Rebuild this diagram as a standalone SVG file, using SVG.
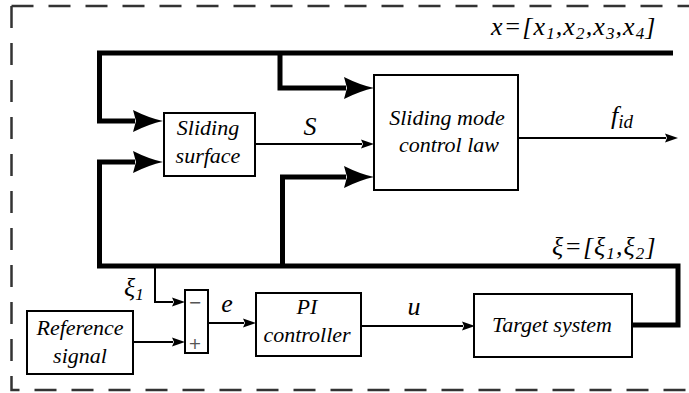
<svg xmlns="http://www.w3.org/2000/svg" width="689" height="393" viewBox="0 0 689 393">
<style>
.box{fill:#fff;stroke:#000;stroke-width:2}
.thick{fill:none;stroke:#000;stroke-width:5;stroke-linejoin:miter}
.thin{fill:none;stroke:#000;stroke-width:2}
.border{fill:none;stroke:#333;stroke-width:2.5;stroke-dasharray:22 15}
.lbl{font-size:22px;text-anchor:middle}
.sig{font-size:26px}
.vec{font-size:26px;letter-spacing:1.1px}
.sign{font-style:normal;font-size:16px;fill:#555;text-anchor:middle}
</style>
<defs>
<marker id="big" markerUnits="userSpaceOnUse" markerWidth="32" markerHeight="24" refX="2" refY="12" orient="auto">
<path d="M0,1 Q16,9 30,12 Q16,15 0,23 L3,12 Z" fill="#000"/>
</marker>
<marker id="small" markerUnits="userSpaceOnUse" markerWidth="14" markerHeight="10" refX="1" refY="5" orient="auto">
<path d="M0,0.5 L13,5 L0,9.5 L2,5 Z" fill="#000"/>
</marker>
</defs>

<path class="border" d="M11.5,6 H689"/>
<path class="border" d="M11.5,6 V390 H689"/>

<g id="connectors">
<path class="thick" d="M673,53 H99.5 V121 H135" marker-end="url(#big)"/>
<path class="thick" d="M280,53 V88 H346" marker-end="url(#big)"/>
<path class="thick" d="M632,325 H678 V266 H99.5 V162 H135" marker-end="url(#big)"/>
<path class="thick" d="M282.5,266 V177 H346" marker-end="url(#big)"/>
<path class="thin" d="M255,144 H362" marker-end="url(#small)"/>
<path class="thin" d="M518,138 H666" marker-end="url(#small)"/>
<path class="thin" d="M155,266 V302 H173" marker-end="url(#small)"/>
<path class="thin" d="M133,342 H173" marker-end="url(#small)"/>
<path class="thin" d="M208,323 H244" marker-end="url(#small)"/>
<path class="thin" d="M361,326 H463" marker-end="url(#small)"/>
</g>

<g font-family="Liberation Serif, serif" font-style="italic" fill="#000">
<g id="sliding-surface">
<rect class="box" x="164" y="113" width="91" height="63"/>
<text class="lbl" x="208" y="135">Sliding</text>
<text class="lbl" x="208" y="163">surface</text>
</g>
<g id="smc-law">
<rect class="box" x="374" y="75" width="144" height="115"/>
<text class="lbl" x="447" y="125">Sliding mode</text>
<text class="lbl" x="449" y="152">control law</text>
</g>
<g id="reference">
<rect class="box" x="27" y="311" width="106" height="63"/>
<text class="lbl" x="80" y="335">Reference</text>
<text class="lbl" x="80" y="363">signal</text>
</g>
<g id="sum">
<rect class="box" x="185" y="290" width="23" height="63"/>
<text class="sign" x="195" y="308" font-family="DejaVu Sans, sans-serif">−</text>
<text class="sign" x="195" y="349" font-family="DejaVu Sans, sans-serif">+</text>
</g>
<g id="pi">
<rect class="box" x="256" y="293" width="105" height="63"/>
<text class="lbl" x="307" y="314">PI</text>
<text class="lbl" x="307" y="342">controller</text>
</g>
<g id="target">
<rect class="box" x="474" y="294" width="158" height="63"/>
<text class="lbl" x="552" y="332">Target system</text>
</g>

<g id="labels">
<text class="sig" x="310" y="135" text-anchor="middle">S</text>
<text class="sig" x="227" y="312" text-anchor="middle">e</text>
<text class="sig" x="414" y="315" text-anchor="middle">u</text>
<text class="sig" x="611" y="124">f<tspan font-size="19" dy="4">id</tspan></text>
<text class="vec" x="491" y="35">x=[x<tspan font-size="17" dy="4">1</tspan><tspan dy="-4">,x</tspan><tspan font-size="17" dy="4">2</tspan><tspan dy="-4">,x</tspan><tspan font-size="17" dy="4">3</tspan><tspan dy="-4">,x</tspan><tspan font-size="17" dy="4">4</tspan><tspan dy="-4">]</tspan></text>
<text class="vec" x="552" y="255">ξ=[ξ<tspan font-size="17" dy="4">1</tspan><tspan dy="-4">,ξ</tspan><tspan font-size="17" dy="4">2</tspan><tspan dy="-4">]</tspan></text>
<text class="sig" x="124" y="296">ξ<tspan font-size="17" dy="4">1</tspan></text>
</g>
</g>
</svg>
